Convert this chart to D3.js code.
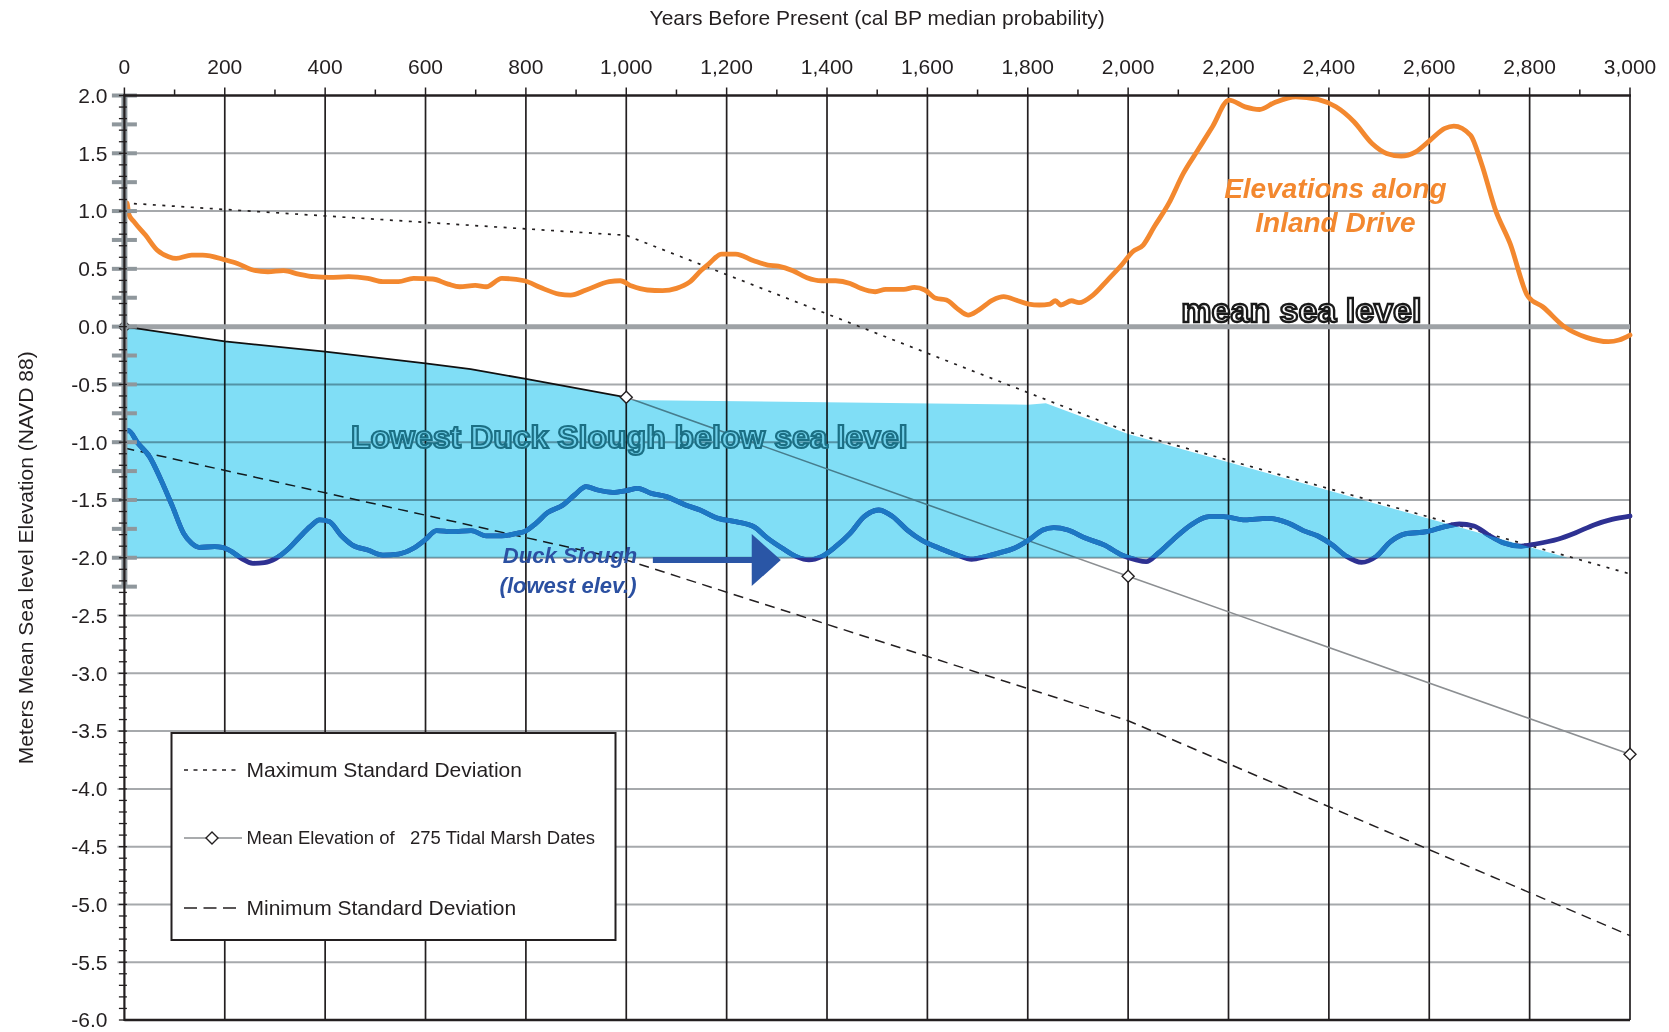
<!DOCTYPE html>
<html>
<head>
<meta charset="utf-8">
<script src="https://cdn.jsdelivr.net/npm/d3@7"></script>
<style>
  html, body { margin: 0; padding: 0; background: #fff; }
  svg { display: block; font-family: "Liberation Sans", Arial, Helvetica, sans-serif; }
</style>
</head>
<body>
<svg id="chart" width="1669" height="1032"></svg>
<script>
// ---------- DATA ----------
const xTicks = [0,200,400,600,800,1000,1200,1400,1600,1800,2000,2200,2400,2600,2800,3000];
const xTickLabels = ["0","200","400","600","800","1,000","1,200","1,400","1,600","1,800","2,000","2,200","2,400","2,600","2,800","3,000"];
const yTicks = [2,1.5,1,0.5,0,-0.5,-1,-1.5,-2,-2.5,-3,-3.5,-4,-4.5,-5,-5.5,-6];
const yTickLabels = ["2.0","1.5","1.0","0.5","0.0","-0.5","-1.0","-1.5","-2.0","-2.5","-3.0","-3.5","-4.0","-4.5","-5.0","-5.5","-6.0"];

const dateYears = [0, 1000, 2000, 3000];
const meanElevation = [0.0, -0.612, -2.16, -3.70];
const maxStdDev = [1.07, 0.79, -0.91, -2.14];
const minStdDev = [-1.05, -2.02, -3.41, -5.27];

// black upper edge of shaded area (0 - 1000 yrs)
const shadeTopEdge = [[0,0],[200,-0.127],[400,-0.217],[600,-0.318],[690,-0.367],[800,-0.453],[1000,-0.612]];
// remaining outline of the shaded area
const shadeRest = [[1000,-0.635],[1800,-0.675],[1836,-0.662],[2000,-0.93],[2876,-2.0],[0,-2.0]];

const inlandDrive = [[0,0.98],[5,1.07],[9,0.97],[19,0.908],[42,0.792],[65,0.663],[88,0.605],[103,0.59],[134,0.619],[156,0.619],[202,0.576],[225,0.547],[256,0.49],[286,0.475],[317,0.484],[347,0.455],[378,0.432],[408,0.426],[447,0.432],[485,0.417],[515,0.389],[546,0.389],[576,0.417],[614,0.412],[645,0.368],[668,0.345],[699,0.357],[721,0.345],[752,0.417],[797,0.397],[828,0.34],[866,0.282],[889,0.273],[920,0.317],[966,0.389],[988,0.397],[1011,0.351],[1042,0.317],[1072,0.311],[1100,0.331],[1126,0.385],[1150,0.49],[1165,0.545],[1190,0.628],[1218,0.628],[1254,0.57],[1282,0.533],[1303,0.524],[1332,0.484],[1360,0.423],[1389,0.397],[1417,0.397],[1446,0.374],[1467,0.331],[1496,0.302],[1517,0.322],[1553,0.322],[1574,0.34],[1595,0.317],[1617,0.245],[1638,0.23],[1659,0.158],[1681,0.1],[1702,0.143],[1730,0.23],[1752,0.259],[1780,0.224],[1802,0.195],[1823,0.187],[1844,0.195],[1855,0.224],[1866,0.187],[1887,0.224],[1902,0.207],[1930,0.273],[1959,0.403],[1987,0.533],[2009,0.648],[2030,0.706],[2052,0.864],[2081,1.066],[2110,1.326],[2139,1.528],[2168,1.73],[2201,1.96],[2233,1.902],[2262,1.879],[2291,1.937],[2334,1.989],[2378,1.966],[2414,1.902],[2450,1.773],[2486,1.585],[2515,1.499],[2544,1.476],[2573,1.513],[2602,1.614],[2631,1.715],[2649,1.735],[2682,1.657],[2704,1.412],[2732,1.008],[2761,0.72],[2797,0.259],[2826,0.172],[2869,0.0],[2913,-0.093],[2957,-0.13],[2978,-0.116],[3000,-0.073]];

const duckSlough = [[0,-0.91],[8,-0.90],[27,-1.01],[50,-1.125],[73,-1.327],[96,-1.558],[118,-1.789],[134,-1.875],[149,-1.91],[180,-1.904],[195,-1.91],[214,-1.947],[233,-2.005],[256,-2.048],[279,-2.042],[302,-2.005],[324,-1.933],[347,-1.831],[370,-1.731],[389,-1.673],[408,-1.687],[431,-1.803],[454,-1.889],[485,-1.933],[515,-1.977],[546,-1.968],[576,-1.918],[599,-1.846],[622,-1.765],[653,-1.774],[691,-1.765],[721,-1.811],[752,-1.811],[782,-1.789],[797,-1.774],[820,-1.702],[843,-1.61],[874,-1.543],[897,-1.457],[920,-1.385],[943,-1.414],[973,-1.434],[1000,-1.419],[1023,-1.399],[1050,-1.443],[1080,-1.471],[1118,-1.543],[1147,-1.587],[1183,-1.659],[1218,-1.688],[1254,-1.731],[1282,-1.832],[1311,-1.918],[1339,-1.99],[1364,-2.019],[1389,-1.99],[1417,-1.904],[1446,-1.789],[1474,-1.644],[1503,-1.587],[1531,-1.644],[1560,-1.76],[1588,-1.846],[1624,-1.918],[1659,-1.976],[1688,-2.013],[1716,-1.99],[1745,-1.956],[1773,-1.918],[1802,-1.846],[1830,-1.76],[1852,-1.74],[1880,-1.76],[1916,-1.832],[1952,-1.889],[1987,-1.976],[2016,-2.019],[2036,-2.034],[2060,-1.961],[2089,-1.846],[2125,-1.716],[2161,-1.644],[2190,-1.644],[2233,-1.673],[2277,-1.659],[2320,-1.702],[2349,-1.765],[2378,-1.812],[2407,-1.89],[2436,-1.99],[2465,-2.039],[2494,-1.99],[2523,-1.861],[2552,-1.794],[2595,-1.774],[2631,-1.731],[2660,-1.708],[2689,-1.725],[2718,-1.803],[2747,-1.87],[2783,-1.899],[2812,-1.881],[2856,-1.84],[2892,-1.783],[2928,-1.716],[2964,-1.668],[3000,-1.639]];

const legendLabels = ["Maximum Standard Deviation", "Mean Elevation of   275 Tidal Marsh Dates", "Minimum Standard Deviation"];

// ---------- CHART ----------
const svg = d3.select("#chart");
const x = d3.scaleLinear().domain([0, 3000]).range([124.4, 1630]);
const y = d3.scaleLinear().domain([-6, 2]).range([1020, 95.5]);
const FONT_COL = "#231f20";

// horizontal grid
const gGrid = svg.append("g");
gGrid.selectAll("line.h").data(yTicks.filter(v => v !== 2 && v !== -6 && v !== 0))
  .enter().append("line")
  .attr("x1", x(0) - 7).attr("x2", x(3000))
  .attr("y1", d => y(d)).attr("y2", d => y(d))
  .attr("stroke", "#a6a9ac").attr("stroke-width", 2);

// vertical grid
gGrid.selectAll("line.v").data(xTicks.filter(v => v > 0))
  .enter().append("line")
  .attr("x1", d => x(d)).attr("x2", d => x(d))
  .attr("y1", y(2)).attr("y2", y(-6))
  .attr("stroke", "#231f20").attr("stroke-width", 1.7);

// mean sea level line
svg.append("line")
  .attr("x1", x(0)).attr("x2", x(3000))
  .attr("y1", y(0)).attr("y2", y(0))
  .attr("stroke", "#9ea2a6").attr("stroke-width", 5);

// statistic lines
const lineXY = d3.line().x(d => x(d[0])).y(d => y(d[1]));
const zipWith = arr => dateYears.map((yr, i) => [yr, arr[i]]);

svg.append("path").datum(zipWith(maxStdDev))
  .attr("d", lineXY).attr("fill", "none")
  .attr("stroke", "#231f20").attr("stroke-width", 1.7)
  .attr("stroke-dasharray", "3,6.5");

svg.append("path").datum(zipWith(minStdDev))
  .attr("d", lineXY).attr("fill", "none")
  .attr("stroke", "#231f20").attr("stroke-width", 1.5)
  .attr("stroke-dasharray", "10,6.5");

svg.append("path").datum(zipWith(meanElevation).slice(1))
  .attr("d", lineXY).attr("fill", "none")
  .attr("stroke", "#8c8f92").attr("stroke-width", 1.6);

// shaded "below sea level" area
const shadePoly = shadeTopEdge.concat(shadeRest);
const areaPath = lineXY(shadePoly) + "Z";
svg.append("path")
  .attr("d", areaPath)
  .attr("fill", "#80def6")
  .style("mix-blend-mode", "multiply");

svg.append("defs").append("clipPath").attr("id", "shadeClip")
  .append("path").attr("d", areaPath);

svg.append("path").datum(shadeTopEdge)
  .attr("d", lineXY).attr("fill", "none")
  .attr("stroke", "#111").attr("stroke-width", 1.8);

// Duck Slough line
const smooth = d3.line().x(d => x(d[0])).y(d => y(d[1])).curve(d3.curveMonotoneX);
svg.append("path").datum(duckSlough)
  .attr("d", smooth).attr("fill", "none")
  .attr("stroke", "#2e3192").attr("stroke-width", 4.8)
  .attr("stroke-linejoin", "round").attr("stroke-linecap", "round");
svg.append("path").datum(duckSlough)
  .attr("d", smooth).attr("fill", "none")
  .attr("clip-path", "url(#shadeClip)")
  .attr("stroke", "#1c78c4").attr("stroke-width", 4.8)
  .attr("stroke-linejoin", "round").attr("stroke-linecap", "round");

// Inland Drive line
svg.append("path").datum(inlandDrive)
  .attr("d", smooth).attr("fill", "none")
  .attr("stroke", "#f3882f").attr("stroke-width", 4.8)
  .attr("stroke-linejoin", "round").attr("stroke-linecap", "round");

// diamonds
const diamond = "M0,-6L6,0L0,6L-6,0Z";
svg.selectAll("path.dia").data(zipWith(meanElevation))
  .enter().append("path")
  .attr("d", diamond)
  .attr("transform", d => `translate(${x(d[0])},${y(d[1])})`)
  .attr("fill", "#fff").attr("stroke", "#231f20").attr("stroke-width", 1.4);

// ---------- AXES ----------
const gAxis = svg.append("g");
gAxis.append("rect")
  .attr("x", x(0) - 3).attr("width", 6)
  .attr("y", y(2)).attr("height", y(-2.25) - y(2))
  .attr("fill", "#8f979c");
const quarterMarks = d3.range(0, 18).map(i => 2 - i * 0.25);
gAxis.selectAll("rect.q").data(quarterMarks).enter().append("rect")
  .attr("x", x(0) - 12.5).attr("width", 25)
  .attr("y", d => y(d) - 2).attr("height", 4)
  .attr("fill", "#8f979c");

// minor ticks every 0.1
const minorY = d3.range(0, 81).map(i => 2 - i * 0.1);
gAxis.selectAll("line.my").data(minorY).enter().append("line")
  .attr("x1", x(0) - 5.5).attr("x2", x(0) + 2.5)
  .attr("y1", d => y(d)).attr("y2", d => y(d))
  .attr("stroke", "#231f20").attr("stroke-width", 1.3);

// left axis line
gAxis.append("line")
  .attr("x1", x(0)).attr("x2", x(0))
  .attr("y1", y(2) - 1).attr("y2", y(-6) + 1)
  .attr("stroke", "#231f20").attr("stroke-width", 2.2);

// bottom line
gAxis.append("line")
  .attr("x1", x(0)).attr("x2", x(3000))
  .attr("y1", y(-6)).attr("y2", y(-6))
  .attr("stroke", "#231f20").attr("stroke-width", 2.5);

// top axis
gAxis.append("line")
  .attr("x1", x(0) - 1).attr("x2", x(3000) + 1)
  .attr("y1", y(2)).attr("y2", y(2))
  .attr("stroke", "#231f20").attr("stroke-width", 2.6);
const topTicks = d3.range(0, 31).map(i => i * 100);
gAxis.selectAll("line.tt").data(topTicks).enter().append("line")
  .attr("x1", d => x(d)).attr("x2", d => x(d))
  .attr("y1", d => y(2) - (d % 200 === 0 ? 8 : 6)).attr("y2", y(2))
  .attr("stroke", "#231f20").attr("stroke-width", 1.5);

// tick labels
gAxis.selectAll("text.xl").data(xTicks).enter().append("text")
  .attr("x", d => x(d)).attr("y", 73.5)
  .attr("text-anchor", "middle")
  .attr("font-size", 21).attr("fill", FONT_COL)
  .text((d, i) => xTickLabels[i]);

gAxis.selectAll("text.yl").data(yTicks).enter().append("text")
  .attr("x", 107.5).attr("y", d => y(d))
  .attr("dy", "0.35em")
  .attr("text-anchor", "end")
  .attr("font-size", 21).attr("fill", FONT_COL)
  .text((d, i) => yTickLabels[i]);

// axis titles
svg.append("text")
  .attr("x", (x(0) + x(3000)) / 2).attr("y", 25)
  .attr("text-anchor", "middle").attr("font-size", 21).attr("fill", FONT_COL)
  .text("Years Before Present (cal BP median probability)");

svg.append("text")
  .attr("transform", `translate(33,${(y(2) + y(-6)) / 2}) rotate(-90)`)
  .attr("text-anchor", "middle").attr("font-size", 21).attr("fill", FONT_COL)
  .text("Meters Mean Sea level Elevation (NAVD 88)");

// ---------- ANNOTATIONS ----------
svg.append("text")
  .attr("x", x(2413)).attr("y", y(1.112))
  .attr("text-anchor", "middle")
  .attr("font-size", 28).attr("font-weight", "bold").attr("font-style", "italic")
  .attr("fill", "#f3882f")
  .text("Elevations along");
svg.append("text")
  .attr("x", x(2413)).attr("y", y(0.818))
  .attr("text-anchor", "middle")
  .attr("font-size", 28).attr("font-weight", "bold").attr("font-style", "italic")
  .attr("fill", "#f3882f")
  .text("Inland Drive");

svg.append("text")
  .attr("x", x(2106)).attr("y", y(0.04))
  .attr("font-size", 34).attr("font-weight", "bold")
  .attr("fill", "#ffffff").attr("stroke", "#1a1a1a").attr("stroke-width", 2.4)
  .text("mean sea level");

svg.append("text")
  .attr("x", x(451.5)).attr("y", y(-1.05))
  .attr("font-size", 32).attr("font-weight", "bold")
  .attr("fill", "#70cfe9").attr("stroke", "#1b6f84").attr("stroke-width", 2.2)
  .text("Lowest Duck Slough below sea level");

svg.append("text")
  .attr("x", x(888)).attr("y", y(-2.045))
  .attr("text-anchor", "middle")
  .attr("font-size", 22).attr("font-weight", "bold").attr("font-style", "italic")
  .attr("fill", "#2b50a1")
  .text("Duck Slough");
svg.append("text")
  .attr("x", x(884)).attr("y", y(-2.305))
  .attr("text-anchor", "middle")
  .attr("font-size", 22).attr("font-weight", "bold").attr("font-style", "italic")
  .attr("fill", "#2b50a1")
  .text("(lowest elev.)");

// arrow
svg.append("line")
  .attr("x1", x(1053)).attr("x2", x(1255))
  .attr("y1", y(-2.02)).attr("y2", y(-2.02))
  .attr("stroke", "#2a56a6").attr("stroke-width", 6);
svg.append("path")
  .attr("d", `M${x(1250)},${y(-2.02) - 26}L${x(1308)},${y(-2.02)}L${x(1250)},${y(-2.02) + 26}Z`)
  .attr("fill", "#2a56a6");

// ---------- LEGEND ----------
const lg = svg.append("g");
lg.append("rect")
  .attr("x", 171.5).attr("y", 733).attr("width", 444).attr("height", 207)
  .attr("fill", "#fff").attr("stroke", "#231f20").attr("stroke-width", 2);

const rowsY = [770, 838, 908];
lg.append("line").attr("x1", 184).attr("x2", 240).attr("y1", rowsY[0]).attr("y2", rowsY[0])
  .attr("stroke", "#231f20").attr("stroke-width", 1.5).attr("stroke-dasharray", "4,5.5");
lg.append("line").attr("x1", 184).attr("x2", 242).attr("y1", rowsY[1]).attr("y2", rowsY[1])
  .attr("stroke", "#8c8f92").attr("stroke-width", 1.6);
lg.append("path").attr("d", diamond).attr("transform", `translate(212,${rowsY[1]})`)
  .attr("fill", "#fff").attr("stroke", "#231f20").attr("stroke-width", 1.4);
lg.append("line").attr("x1", 184).attr("x2", 242).attr("y1", rowsY[2]).attr("y2", rowsY[2])
  .attr("stroke", "#231f20").attr("stroke-width", 1.5).attr("stroke-dasharray", "13,6.5");

lg.selectAll("text").data(legendLabels).enter().append("text")
  .attr("x", 246.5).attr("y", (d, i) => rowsY[i])
  .attr("dy", "0.35em")
  .attr("font-size", (d, i) => i === 1 ? 18.5 : 21)
  .attr("fill", FONT_COL)
  .style("white-space", "pre")
  .text(d => d);
</script>
</body>
</html>
